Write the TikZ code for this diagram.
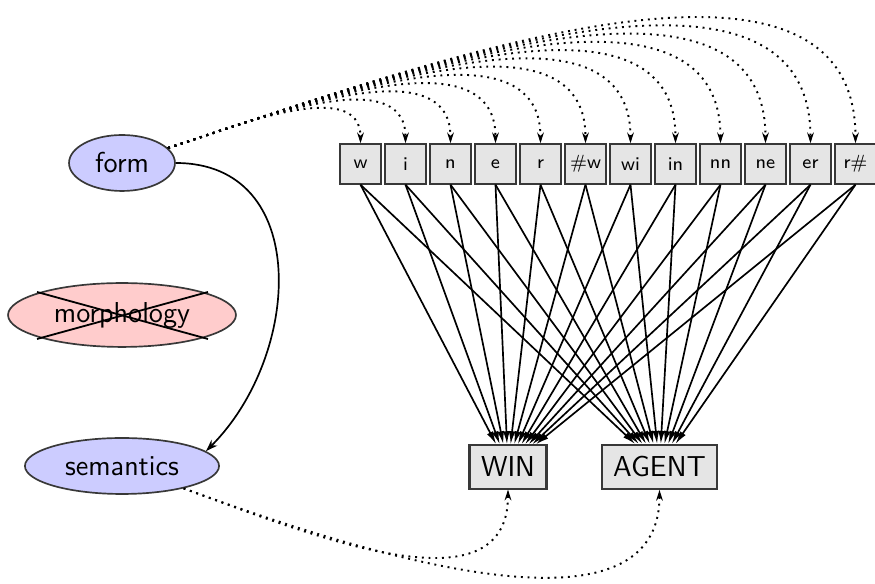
\documentclass[tikz,border=0pt]{standalone}
\usetikzlibrary{arrows.meta,shapes.geometric}
\definecolor{conceptblue}{rgb}{0.8,0.8,1}
\definecolor{conceptred}{rgb}{1,0.8,0.8}
\definecolor{cuegray}{gray}{0.9}
\definecolor{edgegray}{gray}{0.22}
\begin{document}
\begin{tikzpicture}[x=0.4163pt,y=0.4163pt,font=\sffamily,
  concept/.style={ellipse,draw=edgegray,line width=0.7pt,inner sep=0pt,font=\fontsize{12}{14}\sffamily},
  cue/.style={rectangle,draw=edgegray,fill=cuegray,line width=0.85pt,inner sep=0pt,
    minimum width=16.8pt,minimum height=16.4pt,font=\fontsize{8}{10}\sffamily},
  outcome/.style={rectangle,draw=edgegray,fill=cuegray,line width=0.85pt,inner sep=4.8pt,
    minimum height=16.4pt,font=\fontsize{12}{14}\sffamily},
  weight/.style={line width=0.7pt,-{Latex[length=5.5pt,width=2.8pt]}},
  dotlink/.style={line width=0.8pt,dotted,-{Stealth[length=4.5pt,width=2.8pt]}},
  solidlink/.style={line width=0.7pt,-{Stealth[length=5pt,width=3.4pt]}}]
\useasboundingbox (0,0) rectangle (875,-584);

% levels of description
\node[concept,fill=conceptblue,minimum width=44.1pt,minimum height=23.3pt] (form) at (122,-163) {form};
\node[concept,fill=conceptred,minimum width=94.9pt,minimum height=26.6pt] (morph) at (122,-315) {morphology};
\node[concept,fill=conceptblue,minimum width=80.8pt,minimum height=23.3pt] (sem) at (122,-466) {semantics};
\draw[line width=0.75pt] ([shift={(-85,23)}]morph.center) -- ([shift={(86,-24)}]morph.center);
\draw[line width=0.75pt] ([shift={(-85,-24)}]morph.center) -- ([shift={(86,23)}]morph.center);

% orthographic cues
\foreach \i/\t in {1/w,2/i,3/n,4/e,5/r,6/\#w,7/wi,8/in,9/nn,10/ne,11/er,12/r\#}
  \node[cue] (b\i) at ({360.5+45*(\i-1)},-164) {\t};

% outcomes
\node[outcome] (win) at (508,-467) {WIN};
\node[outcome] (agent) at (659.5,-467) {AGENT};

% cue-outcome associations
\foreach \i in {1,...,12}{
  \draw[weight] (b\i.south) -- (win);
  \draw[weight] (b\i.south) -- (agent);
}

% form to cues
\foreach \i in {1,...,12}
  \draw[dotlink] (form) to[out=18,in=90,looseness=0.9] (b\i.north);

% semantics to outcomes
\draw[dotlink] (sem) to[out=-20,in=-90] (win.south);
\draw[dotlink] (sem) to[out=-20,in=-90,looseness=0.88] (agent.south);

% direct form-meaning mapping
\draw[solidlink] (form.east) to[out=0,in=45,looseness=1.2] (sem.10);
\end{tikzpicture}
\end{document}
